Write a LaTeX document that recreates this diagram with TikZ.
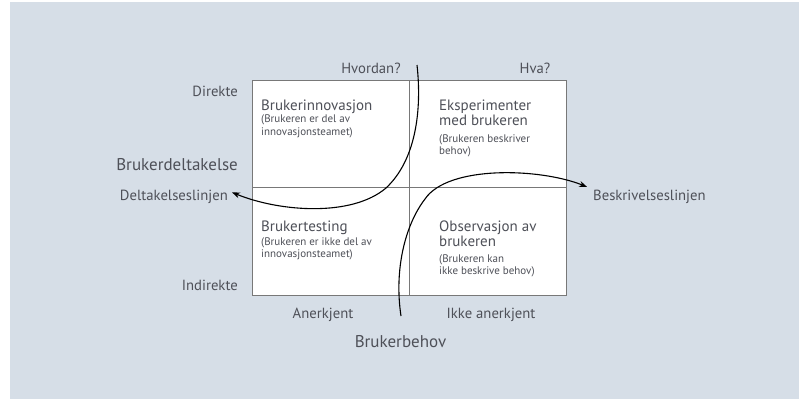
\documentclass[tikz,border=0pt]{standalone}
\usepackage{fontspec}
\setmainfont{PT Sans}
\usetikzlibrary{positioning,arrows.meta}
\definecolor{bgblue}{RGB}{214,222,231}
\definecolor{txtgray}{RGB}{78,80,88}
\definecolor{linegray}{RGB}{120,120,120}

\begin{document}
\begin{tikzpicture}[
    x=1pt, y=-1pt,
    >=Stealth,
    every node/.style={text=txtgray, inner sep=0pt},
    axislabel/.style={font=\fontsize{14.7}{17}\selectfont},
    biglabel/.style={font=\fontsize{17}{20}\selectfont},
    title/.style={anchor=base west, align=left, font=\fontsize{15}{15.7}\selectfont},
    note/.style={anchor=base west, align=left, font=\fontsize{11}{12.3}\selectfont},
    frame/.style={draw=linegray, line width=0.9pt},
    flow/.style={->, line width=1.1pt, black}
]
\useasboundingbox (0,0) rectangle (799,400);
\fill[bgblue] (10,2) rectangle (799,399);

% Matrix
\draw[frame, fill=white] (252,80) rectangle (566,295);
\draw[frame] (409,80) -- (409,295);
\draw[frame] (252,187) -- (566,187);

% Quadrants
\node[title] (q1) at (261,110.5) {Brukerinnovasjon};
\node[note] (q1n) at (261,135) {(Brukeren er del av\\innovasjonsteamet)};
\node[title] (q2) at (439,125.7) {Eksperimenter\\med brukeren};
\node[note] (q2n) at (439,154.3) {(Brukeren beskriver\\behov)};
\node[title] (q3) at (261,231.7) {Brukertesting};
\node[note] (q3n) at (261,257.3) {(Brukeren er ikke del av\\innovasjonsteamet)};
\node[title] (q4) at (439,246.7) {Observasjon av\\brukeren};
\node[note] (q4n) at (439,274.3) {(Brukeren kan\\ikke beskrive behov)};

% Axis labels
\node[axislabel, anchor=base] (hvordan) at (371,73) {Hvordan?};
\node[axislabel, anchor=base] (hva) at (535,73) {Hva?};
\node[axislabel, anchor=base east] (direkte) at (238,96.5) {Direkte};
\node[axislabel, anchor=base east] (indirekte) at (238,290) {Indirekte};
\node[biglabel, anchor=base east] (deltakelse) at (238,170) {Brukerdeltakelse};
\node[axislabel, anchor=base east] (dlinje) at (228,200) {Deltakelseslinjen};
\node[axislabel, anchor=base west] (blinje) at (593,200.5) {Beskrivelseslinjen};
\node[axislabel, anchor=base] (anerkjent) at (323,318.3) {Anerkjent};
\node[axislabel, anchor=base] (ikke) at (491,318.3) {Ikke anerkjent};
\node[biglabel, anchor=base] (behov) at (400.5,347.3) {Brukerbehov};

% Lines
\coordinate (hstart) at (417,65);
\coordinate (bstart) at (401,316);
\draw[flow] (hstart) .. controls (422,110) and (416,160) .. (386,188)
    .. controls (352,217) and (280,212) .. ([shift={(4,-4)}]dlinje.east);
\draw[flow] (bstart) .. controls (394,270) and (405,225) .. (425,199)
    .. controls (448,165) and (540,168) .. ([shift={(-6,-3)}]blinje.north west);
\end{tikzpicture}
\end{document}
